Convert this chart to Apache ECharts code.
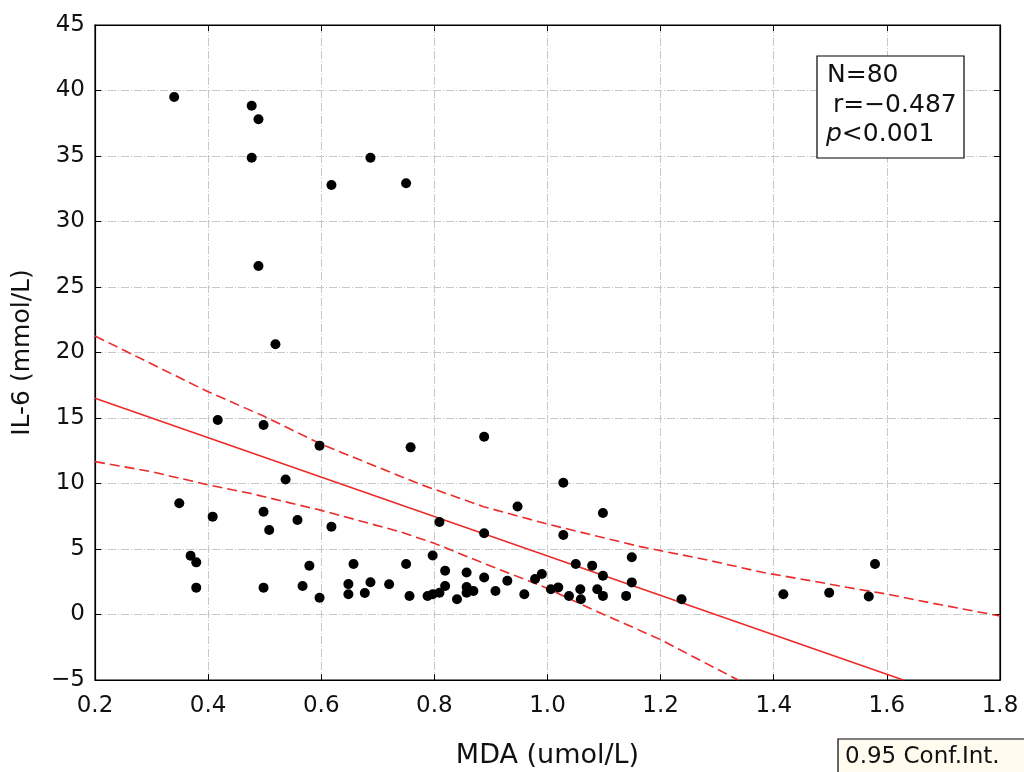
<!DOCTYPE html>
<html>
<head>
<meta charset="utf-8">
<script src="https://cdn.jsdelivr.net/npm/echarts@6/dist/echarts.min.js"></script>
<style>
html,body{margin:0;padding:0;background:#fff;}
#chart{width:1024px;height:772px;}
</style>
</head>
<body>
<div id="chart"></div>
<script>
// MDA (x) and IL-6 (y) pairs
const mda = [0.340,0.477,0.489,0.477,0.618,0.687,0.750,0.489,0.519,0.417,0.498,0.597,0.537,0.758,0.888,
  0.349,0.408,0.498,0.508,0.558,0.618,0.809,0.369,0.379,0.379,0.498,0.579,0.567,0.597,0.657,
  0.648,0.648,0.677,0.687,0.720,0.750,0.756,0.788,0.797,0.809,0.797,0.819,0.819,0.840,0.857,
  0.857,0.857,0.869,1.028,0.947,0.888,1.098,1.028,0.888,0.908,0.929,0.959,0.978,0.990,1.006,
  1.019,1.038,1.050,1.058,1.059,1.079,1.088,1.098,1.098,1.139,1.149,1.149,1.237,1.417,1.498,
  1.568,1.579];
const il6 = [39.5,38.84,37.8,34.87,32.79,34.87,32.92,26.6,20.63,14.85,14.47,12.89,10.3,12.76,13.57,
  8.49,7.47,7.85,6.45,7.21,6.70,7.06,4.49,3.98,2.05,2.05,3.72,2.18,1.28,3.85,
  2.32,1.54,1.64,2.46,2.31,3.85,1.41,1.41,1.54,1.66,4.5,3.34,2.17,1.16,3.2,
  2.1,1.66,1.79,10.06,8.25,6.2,7.75,6.07,2.82,1.79,2.57,1.54,2.71,3.09,1.93,
  2.07,1.41,3.85,1.93,1.16,3.73,1.93,2.96,1.42,1.42,4.37,2.45,1.16,1.55,1.66,
  1.37,3.85];
// regression line and 0.95 confidence band
const fitX = [0.2, 1.629];
const fitY = [16.5, -5];
const upperX = [0.2,0.4,0.498,0.6,0.778,0.887,1.0,1.164,1.276,1.382,1.476,1.529,1.6,1.682,1.8];
const upperY = [21.26,17.0,15.15,13.0,9.89,8.23,6.9,5.18,4.22,3.2,2.5,2.08,1.56,0.85,-0.11];
const lowerX = [0.2,0.3,0.4,0.474,0.6,0.739,0.8,0.887,0.993,1.075,1.199,1.337];
const lowerY = [11.67,10.9,9.9,9.25,7.95,6.32,5.43,3.91,2.12,0.47,-1.9,-5];
const xTicks = {min:0.2, max:1.8, step:0.2};
const yTicks = {min:-5, max:45, step:5};
const annotation = ['N=80', ' r=\u22120.487', 'p', '<0.001'];
const xName = 'MDA (umol/L)';
const yName = 'IL-6 (mmol/L)';
const legendText = '0.95 Conf.Int.';

const zip = (a,b) => a.map((v,i)=>[v,b[i]]);
const red = '#ec2a2a';
const gridLine = {show:true, lineStyle:{color:'#c8c8c8', width:1, type:[8,2,1,2]}};
const fmtY = v => (v < 0 ? '\u2212' + Math.abs(v) : String(v));
const font = '"DejaVu Sans",Verdana,sans-serif';

const chart = echarts.init(document.getElementById('chart'));
chart.setOption({
  animation:false,
  backgroundColor:'#fff',
  grid:{left:95, right:24, top:25, bottom:92, show:true, borderColor:'#000', borderWidth:1.2,
        backgroundColor:'transparent', containLabel:false, outerBoundsMode:'none'},
  xAxis:[{
    type:'value', min:xTicks.min, max:xTicks.max, interval:xTicks.step,
    name:xName, nameLocation:'middle', nameGap:62,
    nameTextStyle:{fontFamily:font, fontSize:27, color:'#111'},
    axisLine:{show:true, onZero:false, lineStyle:{color:'#000', width:1.2}},
    axisTick:{show:true, inside:true, length:6, lineStyle:{color:'#000'}},
    axisLabel:{margin:15, fontFamily:font, fontSize:23, color:'#111', formatter:v=>v.toFixed(1)},
    splitLine:gridLine
  },{
    type:'value', position:'top', min:xTicks.min, max:xTicks.max, interval:xTicks.step,
    axisLine:{show:true, onZero:false, lineStyle:{color:'#000', width:1.2}},
    axisTick:{show:true, inside:true, length:6, lineStyle:{color:'#000'}},
    axisLabel:{show:false}, splitLine:{show:false}
  }],
  yAxis:[{
    type:'value', min:yTicks.min, max:yTicks.max, interval:yTicks.step,
    name:yName, nameLocation:'middle', nameGap:60, nameRotate:90,
    nameTextStyle:{fontFamily:font, fontSize:25, color:'#111'},
    axisLine:{show:true, onZero:false, lineStyle:{color:'#000', width:1.2}},
    axisTick:{show:true, inside:true, length:6, lineStyle:{color:'#000'}},
    axisLabel:{margin:10, fontFamily:font, fontSize:23, color:'#111', formatter:fmtY},
    splitLine:gridLine
  },{
    type:'value', position:'right', min:yTicks.min, max:yTicks.max, interval:yTicks.step,
    axisLine:{show:true, onZero:false, lineStyle:{color:'#000', width:1.2}},
    axisTick:{show:true, inside:true, length:6, lineStyle:{color:'#000'}},
    axisLabel:{show:false}, splitLine:{show:false}
  }],
  series:[
    {type:'line', data:zip(upperX,upperY), showSymbol:false, symbol:'none', clip:true,
     lineStyle:{color:red, width:1.6, type:[10,5]}, z:3},
    {type:'line', data:zip(lowerX,lowerY), showSymbol:false, symbol:'none', clip:true,
     lineStyle:{color:red, width:1.6, type:[10,5]}, z:3},
    {type:'line', data:zip(fitX,fitY), showSymbol:false, symbol:'none', clip:true,
     lineStyle:{color:red, width:1.6}, z:3},
    {type:'scatter', data:zip(mda,il6), symbol:'circle', symbolSize:10,
     itemStyle:{color:'#000', opacity:1}, z:4}
  ],
  graphic:[
    {type:'rect', shape:{x:817, y:56, width:147, height:102}, style:{fill:'#fff', stroke:'#000', lineWidth:1.2}, z:10},
    {type:'text', x:827, y:75, style:{text:annotation[0], font:'25px '+font, fill:'#111', verticalAlign:'middle'}, z:11},
    {type:'text', x:825, y:105, style:{text:annotation[1], font:'25px '+font, fill:'#111', verticalAlign:'middle'}, z:11},
    {type:'text', x:826, y:134, style:{text:'{i|'+annotation[2]+'}'+annotation[3], font:'25px '+font, fill:'#111', verticalAlign:'middle',
      rich:{i:{fontStyle:'italic', fontFamily:'DejaVu Sans', fontSize:25, fill:'#111'}}}, z:11},
    {type:'rect', shape:{x:838, y:739, width:200, height:50}, style:{fill:'#fffcef', stroke:'#000', lineWidth:1.2}, z:10},
    {type:'text', x:845, y:757, style:{text:legendText, font:'23px '+font, fill:'#111', verticalAlign:'middle'}, z:11}
  ]
});
</script>
</body>
</html>
